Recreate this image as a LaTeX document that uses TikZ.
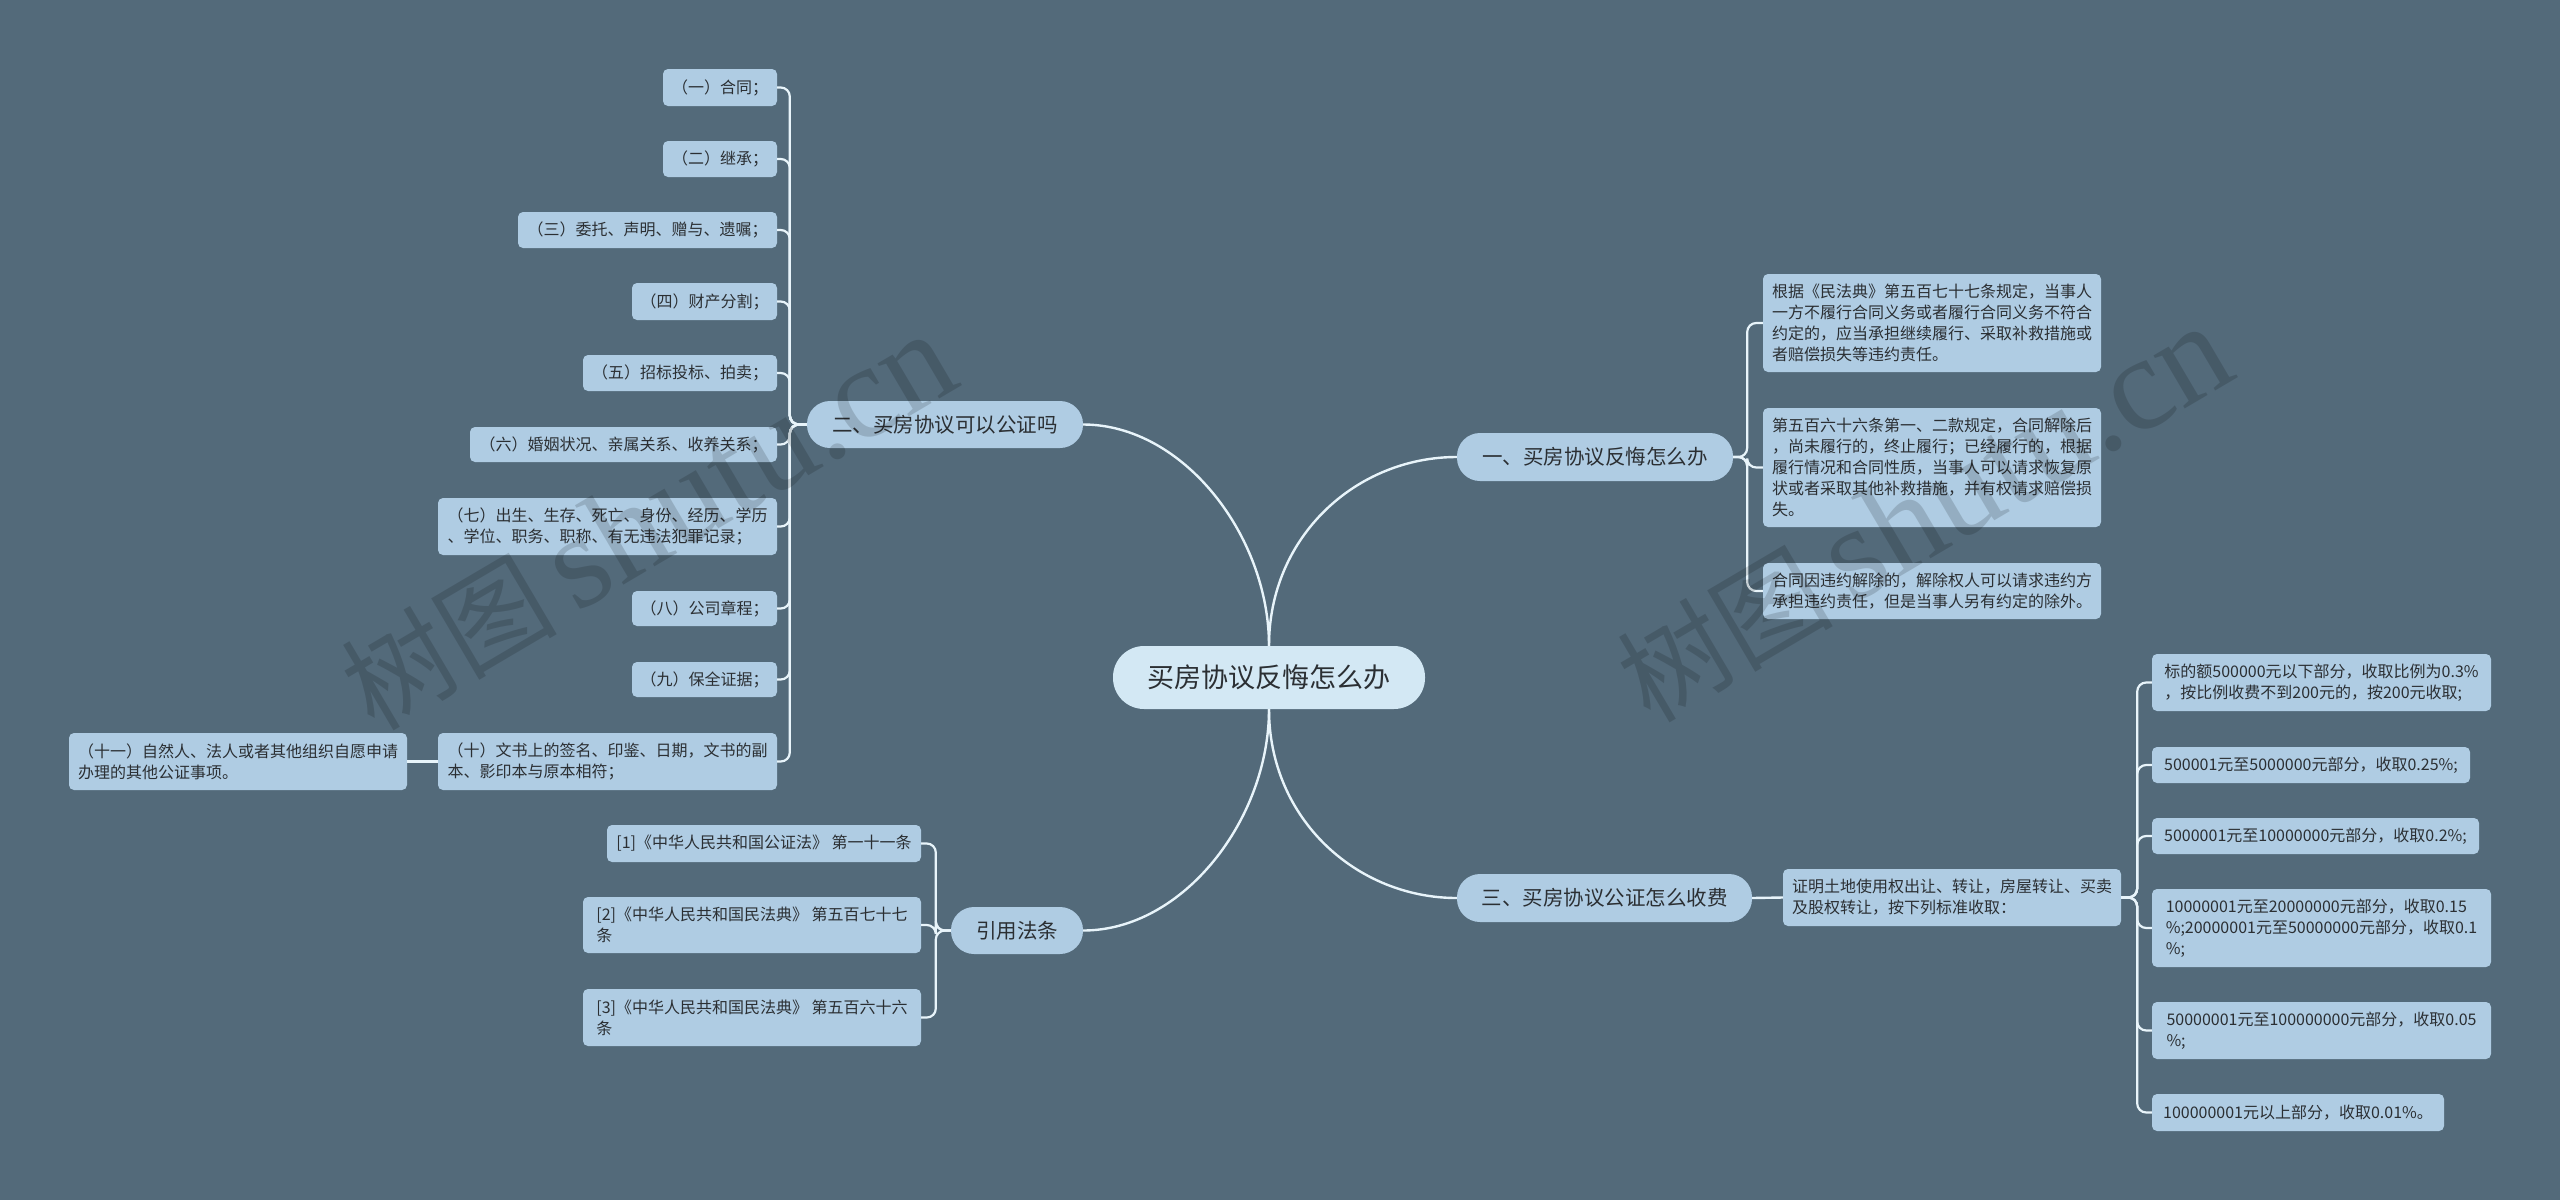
\documentclass[tikz,border=0pt]{standalone}
\usepackage{fontspec}
\newfontfamily\cjk{Noto Sans CJK SC}
\newfontfamily\wmserif{Liberation Serif}
\usetikzlibrary{calc}
\definecolor{bgc}{HTML}{536A7A}
\definecolor{leafc}{HTML}{AFCCE3}
\definecolor{rootc}{HTML}{D3E8F4}
\definecolor{linec}{HTML}{E8F4FA}
\definecolor{txtc}{HTML}{2B2F33}
\begin{document}
\begin{tikzpicture}[x=1pt,y=-1pt,
 leaf/.style={fill=leafc, rounded corners=5pt, text=txtc, font=\cjk\fontsize{16}{21}\selectfont, inner sep=0pt, align=left},
 branch/.style={fill=leafc, rounded corners=23pt, text=txtc, font=\cjk\fontsize{20.5}{24}\selectfont, inner sep=0pt},
 rootn/.style={fill=rootc, rounded corners=31pt, text=txtc, font=\cjk\fontsize{27}{30}\selectfont, inner sep=0pt},
 link/.style={draw=linec, line width=2.4pt},
 blink/.style={draw=linec, line width=2.2pt, rounded corners=9pt},
 wm/.style={text=black, text opacity=0.15, rotate=30.5, inner sep=0pt}
]
\useasboundingbox (0,0) rectangle (2560,1200);
\fill[bgc] (0,0) rectangle (2560,1200);

% root and branches
\node[rootn, minimum width=312, minimum height=63] (root) at (1269,677.5) {买房协议反悔怎么办};
\node[branch, minimum width=276, minimum height=48] (b1) at (1595,457) {一、买房协议反悔怎么办};
\node[branch, minimum width=276, minimum height=47] (b2) at (945,424.5) {二、买房协议可以公证吗};
\node[branch, minimum width=295, minimum height=48] (b3) at (1604.5,898) {三、买房协议公证怎么收费};
\node[branch, minimum width=132, minimum height=47] (cite) at (1017,930.5) {引用法条};

% left leaves
\node[leaf, minimum width=114, minimum height=37] (n1) at (720,87.5) {（一）合同；};
\node[leaf, minimum width=114, minimum height=36] (n2) at (720,159) {（二）继承；};
\node[leaf, minimum width=259, minimum height=36] (n3) at (647.5,230) {（三）委托、声明、赠与、遗嘱；};
\node[leaf, minimum width=145, minimum height=37] (n4) at (704.5,301.5) {（四）财产分割；};
\node[leaf, minimum width=194, minimum height=36] (n5) at (680,373) {（五）招标投标、拍卖；};
\node[leaf, minimum width=307, minimum height=35] (n6) at (623.5,444.5) {（六）婚姻状况、亲属关系、收养关系；};
\node[leaf, minimum width=339, minimum height=57] (n7) at (607.5,526.5) {（七）出生、生存、死亡、身份、经历、学历\\、学位、职务、职称、有无违法犯罪记录；};
\node[leaf, minimum width=145, minimum height=35] (n8) at (704.5,608.5) {（八）公司章程；};
\node[leaf, minimum width=145, minimum height=35] (n9) at (704.5,679.5) {（九）保全证据；};
\node[leaf, minimum width=339, minimum height=57] (n10) at (607.5,761.5) {（十）文书上的签名、印鉴、日期，文书的副\\本、影印本与原本相符；};
\node[leaf, minimum width=338, minimum height=57] (n11) at (238,761.5) {（十一）自然人、法人或者其他组织自愿申请\\办理的其他公证事项。};

% citations
\node[leaf, minimum width=314, minimum height=37] (c1) at (764,843.5) {[1]《中华人民共和国公证法》 第一十一条};
\node[leaf, minimum width=338, minimum height=56] (c2) at (752,925) {[2]《中华人民共和国民法典》 第五百七十七\\条};
\node[leaf, minimum width=338, minimum height=57] (c3) at (752,1017.5) {[3]《中华人民共和国民法典》 第五百六十六\\条};

% right upper
\node[leaf, minimum width=338, minimum height=98] (rA) at (1932,323) {根据《民法典》第五百七十七条规定，当事人\\一方不履行合同义务或者履行合同义务不符合\\约定的，应当承担继续履行、采取补救措施或\\者赔偿损失等违约责任。};
\node[leaf, minimum width=338, minimum height=119] (rB) at (1932,467.5) {第五百六十六条第一、二款规定，合同解除后\\，尚未履行的，终止履行；已经履行的，根据\\履行情况和合同性质，当事人可以请求恢复原\\状或者采取其他补救措施，并有权请求赔偿损\\失。};
\node[leaf, minimum width=338, minimum height=56] (rC) at (1932,591) {合同因违约解除的，解除权人可以请求违约方\\承担违约责任，但是当事人另有约定的除外。};

% right lower
\node[leaf, minimum width=338, minimum height=57] (d0) at (1952,897.5) {证明土地使用权出让、转让，房屋转让、买卖\\及股权转让，按下列标准收取：};
\node[leaf, minimum width=339, minimum height=57] (f1) at (2321.5,682.5) {标的额500000元以下部分，收取比例为0.3\%\\，按比例收费不到200元的，按200元收取;};
\node[leaf, minimum width=318, minimum height=36] (f2) at (2311,765) {500001元至5000000元部分，收取0.25\%;};
\node[leaf, minimum width=327, minimum height=36] (f3) at (2315.5,836) {5000001元至10000000元部分，收取0.2\%;};
\node[leaf, minimum width=339, minimum height=78] (f4) at (2321.5,928) {10000001元至20000000元部分，收取0.15\\\%;20000001元至50000000元部分，收取0.1\\\%;};
\node[leaf, minimum width=339, minimum height=57] (f5) at (2321.5,1030.5) {50000001元至100000000元部分，收取0.05\\\%;};
\node[leaf, minimum width=292, minimum height=37] (f6) at (2298,1112.5) {100000001元以上部分，收取0.01\%。};

% main connectors
\draw[link] (root.north) .. controls ($(root.north)+(0,-110)$) and ($(b1.west)+(-100,0)$) .. (b1.west);
\draw[link] (root.north) .. controls ($(root.north)+(0,-110)$) and ($(b2.east)+(100,0)$) .. (b2.east);
\draw[link] (root.south) .. controls ($(root.south)+(0,110)$) and ($(b3.west)+(-100,0)$) .. (b3.west);
\draw[link] (root.south) .. controls ($(root.south)+(0,110)$) and ($(cite.east)+(100,0)$) .. (cite.east);

% bracket connectors
\foreach \c in {n1,n2,n3,n4,n5,n6,n7,n8,n9,n10}
  \draw[blink] (b2.west) -- ++(-17,0) |- (\c.east);
\draw[link] (n10.west) -- (n11.east);
\foreach \c in {c1,c2,c3}
  \draw[blink] (cite.west) -- ++(-15,0) |- (\c.east);
\foreach \c in {rA,rB,rC}
  \draw[blink] (b1.east) -- ++(14,0) |- (\c.west);
\draw[link] (b3.east) -- (d0.west);
\foreach \c in {f1,f2,f3,f4,f5,f6}
  \draw[blink] (d0.east) -- ++(16,0) |- (\c.west);

% watermarks (drawn over the map, translucent)
\node[wm] (wm1) at (648,522) {\cjk\fontsize{108}{112}\selectfont 树图\,\wmserif\fontsize{134}{138}\selectfont shutu.cn};
\node[wm] (wm2) at (1924,514) {\cjk\fontsize{108}{112}\selectfont 树图\,\wmserif\fontsize{134}{138}\selectfont shutu.cn};
\end{tikzpicture}
\end{document}
